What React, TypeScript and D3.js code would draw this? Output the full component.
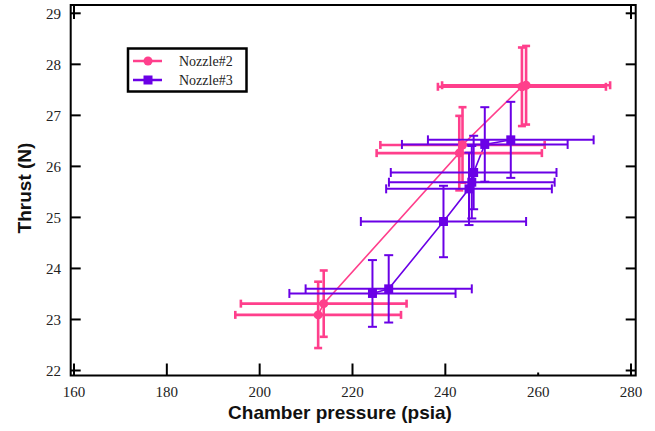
import React from "react";
import * as d3 from "d3";

// Nozzle#2 (pink) data
const n2Pressure = [212.6, 213.8, 243.0, 243.7, 256.5, 257.4];
const n2Thrust = [23.09, 23.31, 26.26, 26.42, 27.56, 27.59];
const n2PressErr = [17.85, 17.85, 17.8, 17.7, 18.1, 18.1];
const n2ThrustErr = [0.65, 0.65, 0.73, 0.74, 0.77, 0.77];

// Nozzle#3 (purple) data
const n3Pressure = [224.3, 227.8, 239.6, 245.1, 245.7, 246.1, 248.5, 254.1];
const n3Thrust = [23.51, 23.6, 24.92, 25.56, 25.69, 25.88, 26.43, 26.52];
const n3PressErr = [17.9, 17.9, 17.8, 17.85, 17.85, 17.85, 17.85, 17.85];
const n3ThrustErr = [0.654, 0.66, 0.7, 0.71, 0.71, 0.72, 0.73, 0.745];

const xTicks = [160, 180, 200, 220, 240, 260, 280];
const yTicks = [22, 23, 24, 25, 26, 27, 28, 29];
const seriesNames = ["Nozzle#2", "Nozzle#3"];

const PINK = "#ff3f8c";
const PURPLE = "#6a00e6";

export default function App() {
  const W = 655;
  const H = 431;
  const x = d3.scaleLinear().domain([160, 280]).range([74, 631]);
  const y = d3.scaleLinear().domain([22, 29]).range([370.5, 13.3]);
  const frame = { left: 70.7, right: 635.7, top: 5, bottom: 375.5 };

  const lineGen = d3
    .line<[number, number]>()
    .x((d) => x(d[0]))
    .y((d) => y(d[1]));

  const n2 = n2Pressure.map((p, i) => ({ p, t: n2Thrust[i], pe: n2PressErr[i], te: n2ThrustErr[i] }));
  const n3 = n3Pressure.map((p, i) => ({ p, t: n3Thrust[i], pe: n3PressErr[i], te: n3ThrustErr[i] }));

  const errBars = (data: any[], color: string, sw: number, cap: number, key: string) =>
    data.map((d, i) => {
      const cx = x(d.p);
      const cy = y(d.t);
      const x0 = x(d.p - d.pe);
      const x1 = x(d.p + d.pe);
      const y0 = y(d.t + d.te);
      const y1 = y(d.t - d.te);
      return (
        <g key={key + i} stroke={color} strokeWidth={sw} fill="none">
          <line x1={x0} x2={x1} y1={cy} y2={cy} />
          <line x1={x0} x2={x0} y1={cy - cap} y2={cy + cap} />
          <line x1={x1} x2={x1} y1={cy - cap} y2={cy + cap} />
          <line x1={cx} x2={cx} y1={y0} y2={y1} />
          <line x1={cx - cap} x2={cx + cap} y1={y0} y2={y0} />
          <line x1={cx - cap} x2={cx + cap} y1={y1} y2={y1} />
        </g>
      );
    });

  const tickLen = 10;

  return (
    <svg
      width={W}
      height={H}
      style={{ position: "absolute", left: 0, top: 0, background: "#fff" }}
    >
      <rect x={0} y={0} width={W} height={H} fill="#fff" />
      {/* series lines */}
      <path d={lineGen(n2.map((d) => [d.p, d.t]))!} stroke={PINK} strokeWidth={1.6} fill="none" />
      <path d={lineGen(n3.map((d) => [d.p, d.t]))!} stroke={PURPLE} strokeWidth={1.6} fill="none" />
      {errBars(n2, PINK, 2.6, 4, "n2")}
      {errBars(n3, PURPLE, 2, 4.5, "n3")}
      {n2.map((d, i) => (
        <circle key={"c" + i} cx={x(d.p)} cy={y(d.t)} r={4.5} fill={PINK} />
      ))}
      {n3.map((d, i) => (
        <rect key={"s" + i} x={x(d.p) - 4.5} y={y(d.t) - 4.5} width={9} height={9} fill={PURPLE} />
      ))}

      {/* frame */}
      <rect
        x={frame.left}
        y={frame.top}
        width={frame.right - frame.left}
        height={frame.bottom - frame.top}
        fill="none"
        stroke="#000"
        strokeWidth={2}
      />
      {/* left & right ticks */}
      {yTicks.map((t) => (
        <g key={"yt" + t} stroke="#000" strokeWidth={2}>
          <line x1={frame.left} x2={frame.left + tickLen} y1={y(t)} y2={y(t)} />
          <line x1={frame.right} x2={frame.right - tickLen} y1={y(t)} y2={y(t)} />
        </g>
      ))}
      {/* bottom ticks */}
      {xTicks.map((t) => (
        <line
          key={"xt" + t}
          x1={x(t)}
          x2={x(t)}
          y1={frame.bottom}
          y2={frame.bottom - (t === 260 ? 3 : tickLen + 2)}
          stroke="#000"
          strokeWidth={2}
        />
      ))}
      {/* top ticks at corners */}
      {[160, 280].map((t) => (
        <line key={"tt" + t} x1={x(t)} x2={x(t)} y1={frame.top} y2={frame.top + 14} stroke="#000" strokeWidth={2} />
      ))}

      {/* tick labels */}
      {yTicks.map((t) => (
        <text
          key={"yl" + t}
          x={61}
          y={y(t)}
          dy="0.35em"
          textAnchor="end"
          fontFamily="Liberation Serif, serif"
          fontSize={15}
          fill="#222"
        >
          {t}
        </text>
      ))}
      {xTicks.map((t) => (
        <text
          key={"xl" + t}
          x={x(t)}
          y={397}
          textAnchor="middle"
          fontFamily="Liberation Serif, serif"
          fontSize={15}
          fill="#222"
        >
          {t}
        </text>
      ))}

      {/* axis titles */}
      <text
        x={340}
        y={419}
        textAnchor="middle"
        fontFamily="Liberation Sans, Arial, sans-serif"
        fontSize={19}
        fontWeight="bold"
        fill="#111"
      >
        Chamber pressure (psia)
      </text>
      <text
        transform={`translate(31,${188}) rotate(-90)`}
        textAnchor="middle"
        fontFamily="Liberation Sans, Arial, sans-serif"
        fontSize={19}
        fontWeight="bold"
        fill="#111"
      >
        Thrust (N)
      </text>

      {/* legend */}
      <rect x={128} y={48.5} width={118.5} height={43} fill="#fff" stroke="#000" strokeWidth={2.5} />
      <line x1={133} x2={162} y1={61} y2={61} stroke={PINK} strokeWidth={2.5} />
      <circle cx={148} cy={61} r={4.5} fill={PINK} />
      <line x1={133} x2={162} y1={80} y2={80} stroke={PURPLE} strokeWidth={2.5} />
      <rect x={143.5} y={75.5} width={9} height={9} fill={PURPLE} />
      {seriesNames.map((n, i) => (
        <text
          key={n}
          x={179}
          y={61 + i * 19}
          dy="0.35em"
          fontFamily="Liberation Serif, serif"
          fontSize={14}
          fill="#222"
        >
          {n}
        </text>
      ))}
    </svg>
  );
}
